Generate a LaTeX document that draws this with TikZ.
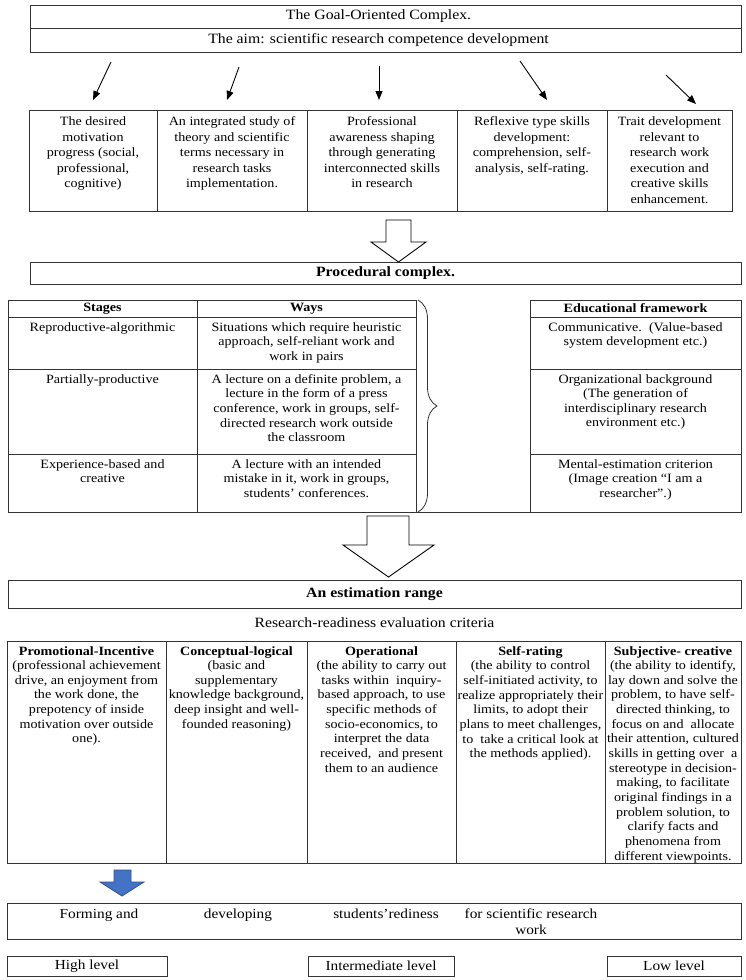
\documentclass[tikz,border=0pt]{standalone}
\usepackage{fontspec}
\setmainfont{Liberation Serif}[FakeStretch=1.11]
\usetikzlibrary{arrows.meta,decorations.pathreplacing}
\newcommand{\nf}{\fontsize{12.7}{14.65}\selectfont}
\newcommand{\gf}{\fontsize{12.7}{15.5}\selectfont}
\newcommand{\lf}{\fontsize{14.2}{16.1}\selectfont}
\newcommand{\ff}{\fontsize{13.8}{16.1}\selectfont}
\newcommand{\cellbox}[5]{\node[cellb,minimum width={(#4-#2)*1pt},minimum height={(#5-#3)*1pt}] (#1) at (#2,#3) {};}
\definecolor{bluefill}{HTML}{4472C4}
\definecolor{blueline}{HTML}{2F528F}
\tikzset{
 cellb/.style={draw=black!80, line width=0.8pt, anchor=north west, inner sep=0pt, outer sep=0pt},
 txt/.style={inner sep=0pt, align=center, font=\nf, anchor=north},
 gtxt/.style={inner sep=0pt, align=center, font=\gf, anchor=north},
 ctxt/.style={inner sep=0pt, align=center, font=\nf},
 btxt/.style={inner sep=0pt, align=center, font=\lf},
 ftxt/.style={inner sep=0pt, align=center, font=\ff, anchor=north},
 thinarr/.style={line width=0.9pt, -{Triangle[length=9pt,width=7pt]}},
 blockarr/.style={draw=black, line width=0.9pt, fill=white, line join=miter},
 bluearr/.style={draw=blueline, line width=0.8pt, fill=bluefill, line join=miter}
}
\begin{document}
\begin{tikzpicture}[x=1pt,y=-1pt]
\fill[white] (0,0) rectangle (746,980);
\useasboundingbox (0,0) rectangle (746,980);

% goal-oriented complex
\cellbox{goal}{30}{5}{741}{28}
\cellbox{aim}{30}{28}{741}{52}
\node[btxt] (goalt) at ([xshift=-7pt]goal.center) {The Goal-Oriented Complex.};
\node[btxt] (aimt) at ([xshift=-7pt]aim.center) {The aim: scientific research competence development};

% five boxes
\cellbox{g1}{29}{110}{157}{211}
\cellbox{g2}{157}{110}{307}{211}
\cellbox{g3}{307}{110}{457}{211}
\cellbox{g4}{457}{110}{607}{211}
\cellbox{g5}{607}{110}{732}{211}
\node[gtxt] (g1t) at ([yshift=-6.5pt]g1.north) {The desired\\motivation\\progress (social,\\professional,\\cognitive)};
\node[gtxt] (g2t) at ([yshift=-6.5pt]g2.north) {An integrated study of\\theory and scientific\\terms necessary in\\research tasks\\implementation.};
\node[gtxt] (g3t) at ([yshift=-6.5pt]g3.north) {Professional\\awareness shaping\\through generating\\interconnected skills\\in research};
\node[gtxt] (g4t) at ([yshift=-6.5pt]g4.north) {Reflexive type skills\\development:\\comprehension, self-\\analysis, self-rating.};
\node[gtxt] (g5t) at ([yshift=-6.5pt]g5.north) {Trait development\\relevant to\\research work\\execution and\\creative skills\\enhancement.};

% thin arrows
\coordinate (s1) at (111,62); \coordinate (e1) at (93,100);
\coordinate (s2) at (239,67); \coordinate (e2) at (227,100);
\coordinate (s3) at (379,66); \coordinate (e3) at (379,100);
\coordinate (s4) at (520,61); \coordinate (e4) at (547,100);
\coordinate (s5) at (666,75); \coordinate (e5) at (696,104);
\draw[thinarr] (s1) -- (e1);
\draw[thinarr] (s2) -- (e2);
\draw[thinarr] (s3) -- (e3);
\draw[thinarr] (s4) -- (e4);
\draw[thinarr] (s5) -- (e5);

% block arrow 1
\draw[blockarr] (386,220) -- (411,220) -- (411,242) -- (426,242) -- (398.5,262) -- (371,242) -- (386,242) -- cycle;

% procedural complex
\cellbox{proc}{30}{262}{741}{284}
\node[btxt, font=\lf\bfseries] (proct) at (proc.center) {Procedural complex.};

% left table
\cellbox{st0}{8}{300}{197}{317}
\cellbox{wa0}{197}{300}{416}{317}
\cellbox{st1}{8}{317}{197}{369}
\cellbox{wa1}{197}{317}{416}{369}
\cellbox{st2}{8}{369}{197}{454}
\cellbox{wa2}{197}{369}{416}{454}
\cellbox{st3}{8}{454}{197}{512}
\cellbox{wa3}{197}{454}{416}{512}
\node[ctxt, font=\nf\bfseries] (st0t) at (st0.center) {Stages};
\node[ctxt, font=\nf\bfseries] (wa0t) at (wa0.center) {Ways};
\node[txt] (st1t) at ([yshift=-5pt]st1.north) {Reproductive-algorithmic};
\node[txt] (wa1t) at ([yshift=-5pt]wa1.north) {Situations which require heuristic\\approach, self-reliant work and\\work in pairs};
\node[txt] (st2t) at ([yshift=-5pt]st2.north) {Partially-productive};
\node[txt] (wa2t) at ([yshift=-5pt]wa2.north) {A lecture on a definite problem, a\\lecture in the form of a press\\conference, work in groups, self-\\directed research work outside\\the classroom};
\node[txt] (st3t) at ([yshift=-5pt]st3.north) {Experience-based and\\creative};
\node[txt] (wa3t) at ([yshift=-5pt]wa3.north) {A lecture with an intended\\mistake in it, work in groups,\\students’ conferences.};

% brace
\draw[decorate, decoration={brace, amplitude=19pt}, line width=0.8pt, draw=black!80]
  ([xshift=2pt]wa0.north east) -- ([xshift=2pt]wa3.south east);

% right table
\cellbox{ef0}{530}{300}{741}{317}
\cellbox{ef1}{530}{317}{741}{369}
\cellbox{ef2}{530}{369}{741}{454}
\cellbox{ef3}{530}{454}{741}{512}
\node[ctxt, font=\nf\bfseries] (ef0t) at (ef0.center) {Educational framework};
\node[txt] (ef1t) at ([yshift=-5pt]ef1.north) {Communicative.\ \ (Value-based\\system development etc.)};
\node[txt] (ef2t) at ([yshift=-5pt]ef2.north) {Organizational background\\(The generation of\\interdisciplinary research\\environment etc.)};
\node[txt] (ef3t) at ([yshift=-5pt]ef3.north) {Mental-estimation criterion\\(Image creation “I am a\\researcher”.)};
\draw[draw=black!80, line width=0.8pt] (wa3.south east) -- (ef3.south west);

% block arrow 2
\draw[blockarr] (367,516) -- (409,516) -- (409,545) -- (434,545) -- (388.5,577) -- (343,545) -- (367,545) -- cycle;

% estimation range
\cellbox{est}{8}{580}{741}{608}
\node[btxt, font=\lf\bfseries] (estt) at (est.center) {An estimation range};
\node[btxt] (rr) at (374.5,623) {Research-readiness evaluation criteria};

% bottom table
\cellbox{c1}{7}{641}{166}{863}
\cellbox{c2}{166}{641}{307}{863}
\cellbox{c3}{307}{641}{456}{863}
\cellbox{c4}{456}{641}{605}{863}
\cellbox{c5}{605}{641}{741}{863}
\node[txt] (c1t) at ([yshift=-5pt]c1.north) {\textbf{Promotional-Incentive}\\(professional achievement\\drive, an enjoyment from\\the work done, the\\prepotency of inside\\motivation over outside\\one).};
\node[txt] (c2t) at ([yshift=-5pt]c2.north) {\textbf{Conceptual-logical}\\(basic and\\supplementary\\knowledge background,\\deep insight and well-\\founded reasoning)};
\node[txt] (c3t) at ([yshift=-5pt]c3.north) {\textbf{Operational}\\(the ability to carry out\\tasks within\ \ inquiry-\\based approach, to use\\specific methods of\\socio-economics, to\\interpret the data\\received,\ \ and present\\them to an audience};
\node[txt] (c4t) at ([yshift=-5pt]c4.north) {\textbf{Self-rating}\\(the ability to control\\self-initiated activity, to\\realize appropriately their\\limits, to adopt their\\plans to meet challenges,\\to\ \ take a critical look at\\the methods applied).};
\node[txt] (c5t) at ([yshift=-5pt]c5.north) {\textbf{Subjective- creative}\\(the ability to identify,\\lay down and solve the\\problem, to have self-\\directed thinking, to\\focus on and\ \ allocate\\their attention, cultured\\skills in getting over\ \ a\\stereotype in decision-\\making, to facilitate\\original findings in a\\problem solution, to\\clarify facts and\\phenomena from\\different viewpoints.};

% blue arrow
\draw[bluearr] (114,870) -- (131,870) -- (131,882) -- (144,882) -- (122,896) -- (100,882) -- (114,882) -- cycle;

% forming box
\cellbox{form}{7}{903}{741}{939}
\node[ftxt] (f1) at (99,908.5) {Forming and};
\node[ftxt] (f2) at (238,908.5) {developing};
\node[ftxt] (f3) at (386,908.5) {students’rediness};
\node[ftxt] (f4) at (531,908.5) {for scientific research\\work};

% levels
\cellbox{hl}{7}{956}{167}{976}
\cellbox{il}{308}{956}{454}{976}
\cellbox{ll}{607}{956}{741}{976}
\node[btxt, font=\ff] (hlt) at (hl.center) {High level};
\node[btxt, font=\ff] (ilt) at (il.center) {Intermediate level};
\node[btxt, font=\ff] (llt) at (ll.center) {Low level};
\end{tikzpicture}
\end{document}
